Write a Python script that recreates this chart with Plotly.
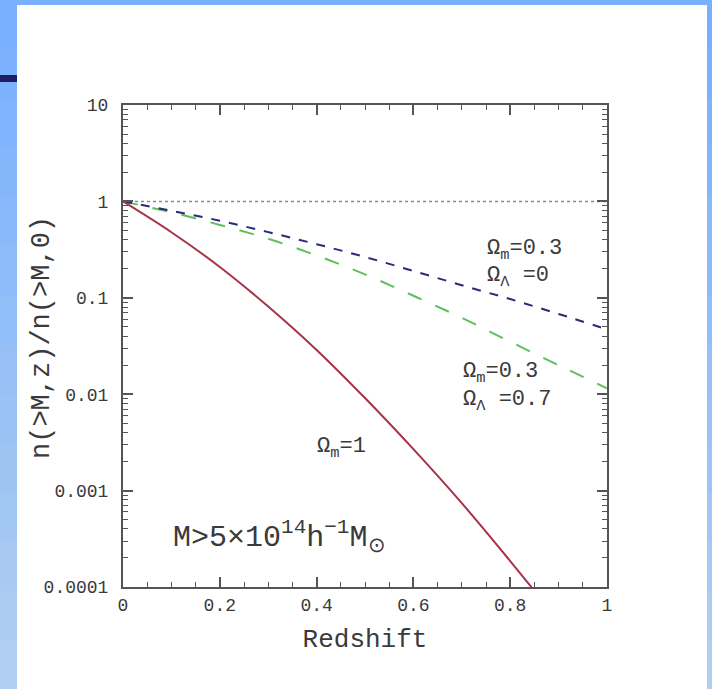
import plotly.graph_objects as go

# ---- data ----
redshift = [0.0, 0.1, 0.2, 0.3, 0.4, 0.5, 0.6, 0.7, 0.8, 0.85]
n_om1 = [1.0, 0.479, 0.209, 0.0813, 0.0288, 0.00912, 0.00269, 0.000741, 0.000186, 0.0000912]
redshift_low = [0.0, 0.1, 0.2, 0.3, 0.4, 0.5, 0.6, 0.7, 0.8, 0.9, 1.0]
n_om03_ol0 = [1.0, 0.80, 0.63, 0.48, 0.36, 0.265, 0.19, 0.135, 0.097, 0.068, 0.047]
n_om03_ol07 = [1.0, 0.77, 0.57, 0.41, 0.275, 0.175, 0.105, 0.062, 0.035, 0.020, 0.0115]
ref_z = [0.0, 1.0]
ref_n = [1.0, 1.0]

x_tickvals = [0, 0.2, 0.4, 0.6, 0.8, 1]
x_ticktext = ["0", "0.2", "0.4", "0.6", "0.8", "1"]
y_tickvals = [1e-4, 1e-3, 1e-2, 1e-1, 1, 10]
y_ticktext = ["0.0001", "0.001", "0.01", "0.1", "1", "10"]
y_minor = [m * 10 ** e for e in range(-4, 1) for m in range(2, 10)]

FONT = "Liberation Mono"
TXT = "#3a3a3a"

fig = go.Figure()
fig.add_trace(go.Scatter(x=ref_z, y=ref_n, mode="lines",
                         line=dict(color="#8a8a8a", width=1.5, dash="dot"), hoverinfo="skip"))
fig.add_trace(go.Scatter(x=redshift_low, y=n_om03_ol07, mode="lines",
                         line=dict(color="#5cc05c", width=2, dash="longdash", shape="spline")))
fig.add_trace(go.Scatter(x=redshift_low, y=n_om03_ol0, mode="lines",
                         line=dict(color="#2a2a7a", width=2, dash="dash", shape="spline")))
fig.add_trace(go.Scatter(x=redshift, y=n_om1, mode="lines",
                         line=dict(color="#a83246", width=2, shape="spline")))

# ---- background frame (slide-like) ----
W, H = 712, 689
L, R, T, B = 123, 607, 105, 587
def px(x):
    return (x - L) / (R - L)
def py(y):
    return (B - y) / (B - T)

shapes = []
nb = 14
c0 = (120, 176, 255)
c1 = (176, 206, 240)
for i in range(nb):
    f = i / (nb - 1)
    col = "rgb(%d,%d,%d)" % tuple(int(a + (b - a) * f) for a, b in zip(c0, c1))
    shapes.append(dict(type="rect", xref="paper", yref="paper", layer="below",
                       x0=px(0), x1=px(W), y0=py(H * i / nb), y1=py(H * (i + 1) / nb + 1),
                       line=dict(width=0), fillcolor=col))
shapes.append(dict(type="rect", xref="paper", yref="paper", layer="below",
                   x0=px(17), x1=px(707), y0=py(5), y1=py(H + 2),
                   line=dict(width=0), fillcolor="white"))
shapes.append(dict(type="rect", xref="paper", yref="paper", layer="below",
                   x0=px(0), x1=px(17), y0=py(75), y1=py(82),
                   line=dict(width=0), fillcolor="#1b1f5e"))

ann = []
def add(text, x, y, size, xanchor="left", angle=0):
    ann.append(dict(text=text, x=x, y=y, xref="paper", yref="paper", showarrow=False,
                    xanchor=xanchor, yanchor="middle", textangle=angle,
                    font=dict(family=FONT, size=size, color=TXT)))

add("Ω<sub>m</sub>=0.3", px(485), py(250), 22)
add("Ω<sub>Λ</sub> =0", px(485), py(277), 22)
add("Ω<sub>m</sub>=0.3", px(461), py(373), 22)
add("Ω<sub>Λ</sub> =0.7", px(461), py(401), 22)
add("Ω<sub>m</sub>=1", px(315), py(448), 22)
add("M>5×10<sup>14</sup>h<sup>−1</sup>M<sub>⊙</sub>", px(171), py(537), 30)
add("n(>M,z)/n(>M,0)", px(42), py(338), 27, xanchor="center", angle=-90)

axis_common = dict(showline=True, linecolor="#555", linewidth=2, mirror="ticks",
                   ticks="inside", ticklen=10, tickwidth=1.5, tickcolor="#555",
                   showgrid=False, zeroline=False,
                   tickfont=dict(family=FONT, size=18, color=TXT))

fig.update_layout(
    width=W, height=H,
    margin=dict(l=L, r=W - R, t=T, b=H - B),
    paper_bgcolor="white", plot_bgcolor="rgba(0,0,0,0)",
    showlegend=False,
    shapes=shapes, annotations=ann,
    xaxis=dict(range=[0, 1], tickmode="array", tickvals=x_tickvals, ticktext=x_ticktext,
               minor=dict(dtick=0.05, ticks="inside", ticklen=5, tickcolor="#555", tickwidth=1.2),
               title=dict(text="Redshift", font=dict(family=FONT, size=26, color=TXT), standoff=14),
               **axis_common),
    yaxis=dict(type="log", range=[-4, 1], tickmode="array", tickvals=y_tickvals, ticktext=y_ticktext,
               minor=dict(tickvals=y_minor, ticks="inside", ticklen=5, tickcolor="#555", tickwidth=1.2),
               ticklabelstandoff=9,
               **axis_common),
)

fig.write_html("out.html", config={"displayModeBar": False},
               post_script="document.body.style.margin='0';")
